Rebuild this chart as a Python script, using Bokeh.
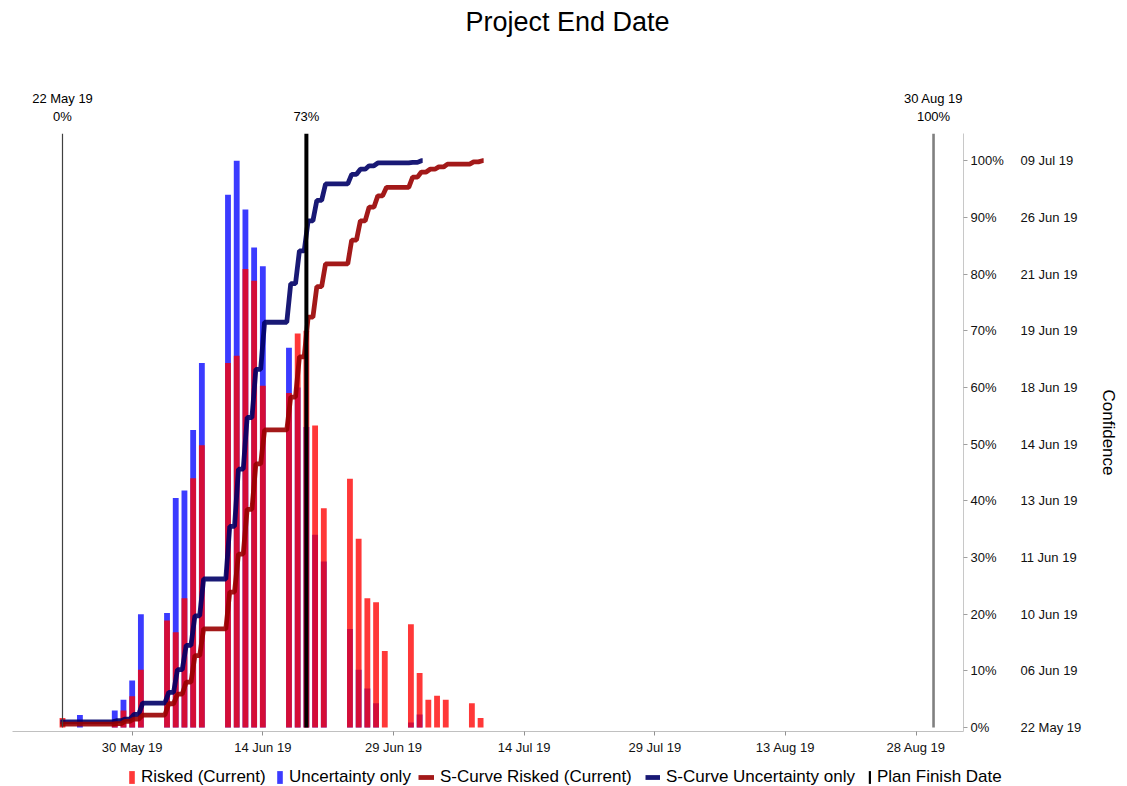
from bokeh.plotting import figure
from bokeh.layouts import column
from bokeh.models import (ColumnDataSource, LinearAxis, FixedTicker, Range1d,
                          Legend, LegendItem, Title)
from bokeh.core.properties import value
from bokeh.embed import file_html
from bokeh.resources import INLINE

# ---------------- data ----------------
title_text = "Project End Date"
start_day = 0
start_label = "22 May 19"
start_conf = "0%"
end_day = 100
end_label = "30 Aug 19"
end_conf = "100%"
plan_day = 28
plan_conf = "73%"

x_tick_days = [8, 23, 38, 53, 68, 83, 98]
x_tick_labels = ["30 May 19", "14 Jun 19", "29 Jun 19", "14 Jul 19",
                 "29 Jul 19", "13 Aug 19", "28 Aug 19"]

conf_ticks = [0, 10, 20, 30, 40, 50, 60, 70, 80, 90, 100]
conf_pct_labels = ["0%", "10%", "20%", "30%", "40%", "50%", "60%", "70%", "80%", "90%", "100%"]
conf_date_labels = ["22 May 19", "06 Jun 19", "10 Jun 19", "11 Jun 19", "13 Jun 19",
                    "14 Jun 19", "18 Jun 19", "19 Jun 19", "21 Jun 19", "26 Jun 19", "09 Jul 19"]

# histogram (days after 22 May 19, relative frequency in %)
bar_days = [0, 2, 6, 7, 8, 9, 12, 13, 14, 15, 16, 19, 20, 21, 22, 23, 26, 27, 28, 29, 30,
            33, 34, 35, 36, 37, 40, 41, 42, 43, 44, 47, 48]
risked = [1.7, 0.0, 1.0, 3.0, 5.5, 10.2, 18.9, 16.8, 22.8, 44.0, 49.8, 64.3, 65.6, 80.9,
          78.8, 60.3, 59.0, 69.5, 70.0, 53.3, 38.7, 43.9, 33.3, 22.8, 22.1, 13.5, 18.2,
          9.6, 4.9, 5.6, 4.9, 4.3, 1.7]
uncertainty = [0.0, 2.2, 3.0, 4.9, 8.3, 20.0, 20.2, 40.5, 41.8, 52.5, 64.3, 94.0, 100.0,
               91.4, 84.7, 81.4, 67.0, 60.0, 53.0, 34.0, 29.3, 17.4, 10.2, 6.9, 4.3, 0.0,
               0.9, 2.3, 0.0, 0.0, 0.0, 0.0, 0.0]

# S-curves (cumulative confidence in %)
scurve_unc_days = [0, 6, 7, 8, 9, 12, 13, 14, 15, 16, 19, 20, 21, 22, 23, 26, 27, 28, 29,
                   30, 33, 34, 35, 36, 40, 41]
scurve_unc = [1.0, 1.2, 1.5, 2.3, 4.3, 6.2, 10.2, 14.5, 19.7, 26.2, 35.5, 45.6, 54.7, 63.2,
              71.5, 78.3, 84.1, 89.4, 93.0, 95.9, 97.6, 98.5, 99.1, 99.6, 99.7, 100.0]
scurve_risk_days = [0, 6, 7, 8, 9, 12, 13, 14, 15, 16, 19, 20, 21, 22, 23, 26, 27, 28, 29,
                    30, 33, 34, 35, 36, 37, 40, 41, 42, 43, 44, 47, 48]
scurve_risk = [0.6, 0.7, 1.1, 1.5, 2.2, 4.2, 5.9, 8.0, 12.7, 17.4, 23.9, 30.6, 38.5, 46.5,
               52.5, 58.3, 65.4, 72.4, 77.8, 81.8, 86.0, 89.4, 91.8, 93.8, 95.3, 97.1,
               98.0, 98.5, 98.9, 99.4, 99.8, 100.0]

legend_labels = ["Risked (Current)", "Uncertainty only", "S-Curve Risked (Current)",
                 "S-Curve Uncertainty only", "Plan Finish Date"]

# ---------------- styling / layout constants ----------------
FONT = "Liberation Sans"
X0, X1 = -5.74, 103.44
Y0, Y1 = -0.7, 104.8
FRAME_W, FRAME_H = 951, 598
LEFT = 12
TOP_H = 133
TITLE_PANEL = 44
BOTTOM = 25
LEG_H = 30
RED = "#ff0000"
BLUE = "#0000ff"
DRED = "#990000"
NAVY = "#000066"
CURVE_ALPHA = 0.9
CURVE_W = 4.8

upp_x = (X1 - X0) / FRAME_W
upp_y = (Y1 - Y0) / FRAME_H


def step_path(days, levels):
    xs, ys = [], []
    prev = None
    for d, l in zip(days, levels):
        xs.append(d - 0.25)
        ys.append(l if prev is None else prev)
        xs.append(d + 0.2)
        ys.append(l)
        prev = l
    xs.append(days[-1] + 0.35)
    ys.append(levels[-1])
    return xs, ys


def bare(fig):
    fig.outline_line_color = None
    fig.xgrid.visible = False
    fig.ygrid.visible = False
    fig.background_fill_color = "white"
    fig.border_fill_color = "white"


# ---------------- top strip: title + date/confidence annotations ----------------
EXTRA = 20
ptop = figure(frame_width=FRAME_W + EXTRA, height=TOP_H,
              x_range=Range1d(X0, X1 + EXTRA * upp_x),
              y_range=Range1d(Y1, Y1 + (TOP_H - TITLE_PANEL) * upp_y),
              x_axis_location=None, y_axis_location=None,
              output_backend="svg", toolbar_location=None,
              min_border_left=LEFT, min_border_right=0, min_border_top=0, min_border_bottom=0)
bare(ptop)
ptop.add_layout(Title(text=title_text, text_font=FONT, text_font_size="27px",
                      text_font_style="normal", text_color="black", align="left",
                      offset=453, standoff=12, vertical_align="top"), "above")
ann_x = [start_day, start_day, plan_day, end_day, end_day]
ann_text = [start_label, start_conf, plan_conf, end_label, end_conf]
ann_y = [Y1 + (133 - 98) * upp_y, Y1 + (133 - 116) * upp_y, Y1 + (133 - 116) * upp_y,
         Y1 + (133 - 98) * upp_y, Y1 + (133 - 116) * upp_y]
ptop.text(x=ann_x, y=ann_y, text=ann_text, text_align="center", text_baseline="middle",
          text_font=value(FONT), text_font_size="13px", text_color="black")

# ---------------- main chart ----------------
p = figure(frame_width=FRAME_W, frame_height=FRAME_H,
           x_range=Range1d(X0, X1), y_range=Range1d(Y0, Y1),
           output_backend="svg", toolbar_location=None, y_axis_location="right",
           min_border_left=LEFT, min_border_right=0, min_border_top=0,
           min_border_bottom=BOTTOM)
bare(p)

src = ColumnDataSource(dict(day=bar_days, risked=risked, unc=uncertainty))
p.vbar(x="day", top="unc", bottom=0, width=0.67, source=src,
       fill_color=BLUE, fill_alpha=0.77, line_color=None)
p.vbar(x="day", top="risked", bottom=0, width=0.67, source=src,
       fill_color=RED, fill_alpha=0.78, line_color=None)

ux, uy = step_path(scurve_unc_days, scurve_unc)
rx, ry = step_path(scurve_risk_days, scurve_risk)
p.line(ux, uy, line_color=NAVY, line_width=CURVE_W, line_alpha=CURVE_ALPHA)
p.line(rx, ry, line_color=DRED, line_width=CURVE_W, line_alpha=CURVE_ALPHA)

p.segment(x0=[start_day], y0=[0], x1=[start_day], y1=[Y1], line_color="#404040", line_width=1.2)
p.segment(x0=[end_day], y0=[0], x1=[end_day], y1=[Y1], line_color="#808080", line_width=2.6)
p.vbar(x=[plan_day], top=[Y1], bottom=[0], width=0.46, fill_color="black", line_color=None)

xa = p.xaxis[0]
xa.ticker = FixedTicker(ticks=x_tick_days)
xa.major_label_overrides = {d: l for d, l in zip(x_tick_days, x_tick_labels)}
xa.axis_line_color = "#c0c0c0"
xa.major_tick_line_color = "#909090"
xa.major_tick_out = 4
xa.major_tick_in = 0
xa.minor_tick_line_color = None
xa.major_label_standoff = 4
xa.major_label_text_font = FONT
xa.major_label_text_font_size = "13px"
xa.major_label_text_color = "#111111"

ya = p.yaxis[0]
ya.ticker = FixedTicker(ticks=conf_ticks)
ya.major_label_overrides = {t: l for t, l in zip(conf_ticks, conf_pct_labels)}
ya.axis_line_color = "#c8c8c8"
ya.major_tick_line_color = "#a0a0a0"
ya.major_tick_out = 4
ya.major_tick_in = 0
ya.minor_tick_line_color = None
ya.major_label_standoff = 3
ya.major_label_text_font = FONT
ya.major_label_text_font_size = "13px"
ya.major_label_text_color = "#111111"

ya2 = LinearAxis(ticker=FixedTicker(ticks=conf_ticks),
                 major_label_overrides={t: l for t, l in zip(conf_ticks, conf_date_labels)},
                 axis_line_color=None, major_tick_line_color=None, minor_tick_line_color=None,
                 major_tick_out=0, major_tick_in=0, major_label_standoff=14,
                 major_label_text_font=FONT, major_label_text_font_size="13px",
                 major_label_text_color="#111111",
                 axis_label="Confidence", axis_label_standoff=15,
                 axis_label_text_font=FONT, axis_label_text_font_size="17px",
                 axis_label_text_font_style="normal", axis_label_text_color="black")
p.add_layout(ya2, "right")

# ---------------- legend strip (its frame is aligned with the chart frame: left = 12px) ----
pleg = figure(width=1200, height=LEG_H, x_range=Range1d(0, 1), y_range=Range1d(0, 1),
              x_axis_location=None, y_axis_location=None,
              output_backend="svg", toolbar_location=None,
              min_border_left=0, min_border_right=0, min_border_top=0, min_border_bottom=0)
bare(pleg)
# legend keys (one hidden point each, outside the strip's range)
lr_red = pleg.vbar(x=[-10], top=[0], bottom=[0], width=0.1, fill_color=RED, fill_alpha=0.78,
                   line_color=None)
lr_blue = pleg.vbar(x=[-10], top=[0], bottom=[0], width=0.1, fill_color=BLUE, fill_alpha=0.77,
                    line_color=None)
lr_dred = pleg.line(x=[-10, -9], y=[0, 0], line_color=DRED, line_width=CURVE_W,
                    line_alpha=CURVE_ALPHA)
lr_navy = pleg.line(x=[-10, -9], y=[0, 0], line_color=NAVY, line_width=CURVE_W,
                    line_alpha=CURVE_ALPHA)
lr_plan = pleg.vbar(x=[-10], top=[0], bottom=[0], width=0.1, fill_color="black",
                    line_color=None)

legend_specs = [
    (legend_labels[0], lr_red, 7, 128),
    (legend_labels[1], lr_blue, 7, 276),
    (legend_labels[2], lr_dred, 16, 418),
    (legend_labels[3], lr_navy, 15, 645),
    (legend_labels[4], lr_plan, 3, 868),
]
for lab, rend, gw, page_x in legend_specs:
    lg = Legend(items=[LegendItem(label=lab, renderers=[rend])], location=(page_x - LEFT, 0),
                glyph_width=gw, glyph_height=16, label_standoff=6, padding=0, margin=0,
                spacing=0, border_line_color=None, background_fill_alpha=0,
                label_text_font=FONT, label_text_font_size="17px", label_height=20,
                label_text_color="black")
    pleg.add_layout(lg)

layout = column(ptop, p, pleg, spacing=0)
open("out.html", "w").write(file_html(layout, INLINE))
